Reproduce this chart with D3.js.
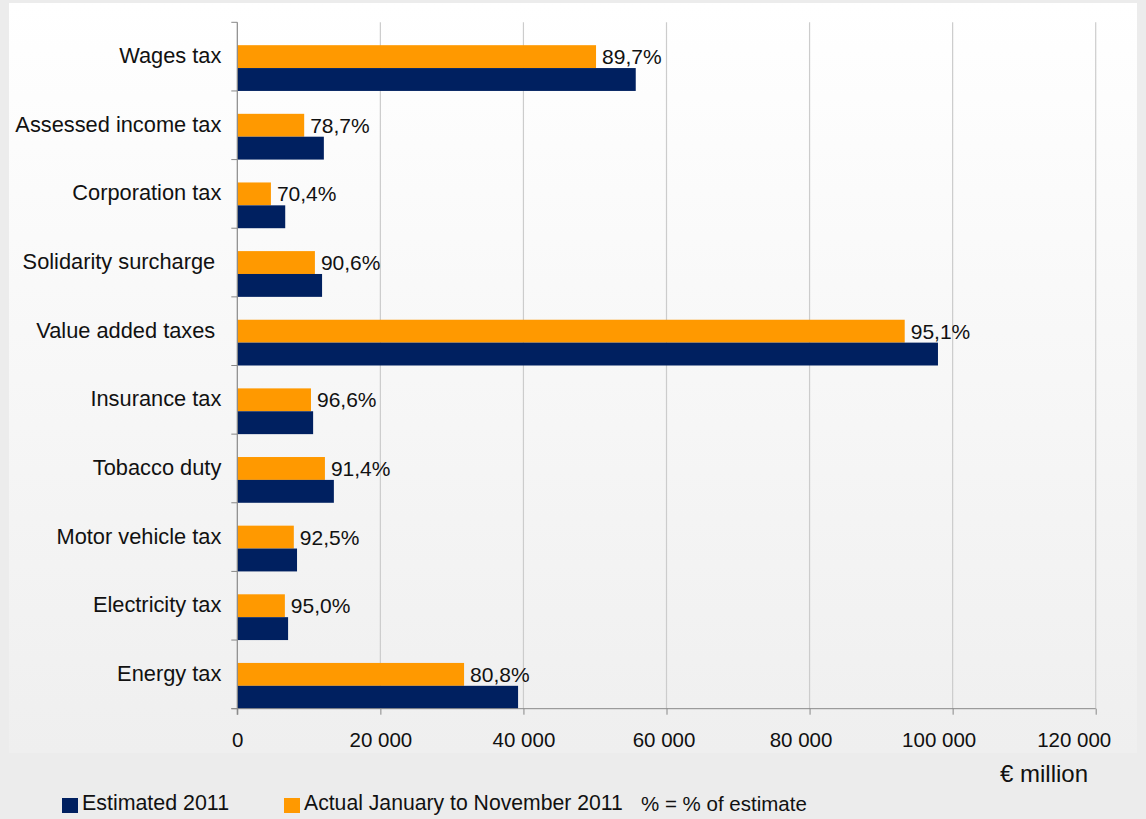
<!DOCTYPE html>
<html>
<head>
<meta charset="utf-8">
<script src="https://cdn.jsdelivr.net/npm/d3@7"></script>
<style>
  body { margin: 0; background: #ececec; }
  text { font-family: "Liberation Sans", Arial, sans-serif; fill: #111; }
</style>
</head>
<body>
<div id="chart"></div>
<script>
// data (€ million)
const categories = ["Wages tax", "Assessed income tax", "Corporation tax", "Solidarity surcharge ",
  "Value added taxes ", "Insurance tax", "Tobacco duty", "Motor vehicle tax", "Electricity tax", "Energy tax"]
const estimated = [55700, 12100, 6700, 11850, 97950, 10600, 13500, 8350, 7100, 39250]
const actual = [50150, 9350, 4700, 10850, 93300, 10300, 12250, 7900, 6650, 31700]
const shares = ["89,7%", "78,7%", "70,4%", "90,6%", "95,1%", "96,6%", "91,4%", "92,5%", "95,0%", "80,8%"]
const xTicks = [0, 20000, 40000, 60000, 80000, 100000, 120000]

const width = 1146, height = 819
const plotLeft = 237.3, plotRight = 1095.7, plotTop = 22.3, plotBottom = 708.7
// the original's tick labels drift left towards the right end
const tickNudge = { 60000: -3, 80000: -9, 100000: -14, 120000: -22 }

const svg = d3.select("#chart").append("svg")
  .attr("width", width)
  .attr("height", height)

// panel background with soft vertical gradient
const grad = svg.append("defs").append("linearGradient")
  .attr("id", "panel").attr("x1", 0).attr("y1", 0).attr("x2", 0).attr("y2", 1)
grad.append("stop").attr("offset", "0%").attr("stop-color", "#ffffff")
grad.append("stop").attr("offset", "100%").attr("stop-color", "#efefef")

svg.append("rect").attr("width", width).attr("height", height).attr("fill", "#ececec")
svg.append("rect").attr("x", 9).attr("y", 3).attr("width", 1128).attr("height", 750)
  .attr("fill", "url(#panel)")

const x = d3.scaleLinear().domain([0, 120000]).range([plotLeft, plotRight])
const y = d3.scaleBand().domain(categories).range([plotTop, plotBottom])
const sub = d3.scaleBand().domain(["gap", "actual", "estimated"]).range([0, y.bandwidth()])

// vertical gridlines
svg.append("g").selectAll("line")
  .data(xTicks.slice(1))
  .enter().append("line")
  .attr("x1", d => x(d)).attr("x2", d => x(d))
  .attr("y1", plotTop).attr("y2", plotBottom)
  .attr("stroke", "#cccccc").attr("stroke-width", 1.2)

// bars
const groups = svg.append("g").selectAll("g")
  .data(categories)
  .enter().append("g")
  .attr("transform", d => "translate(0," + y(d) + ")")

groups.append("rect")
  .attr("x", x(0))
  .attr("y", sub("actual"))
  .attr("width", (d, i) => x(actual[i]) - x(0))
  .attr("height", sub.bandwidth())
  .attr("fill", "#ff9900")

groups.append("rect")
  .attr("x", x(0))
  .attr("y", sub("estimated"))
  .attr("width", (d, i) => x(estimated[i]) - x(0))
  .attr("height", sub.bandwidth())
  .attr("fill", "#002060")

groups.append("text")
  .attr("x", (d, i) => x(actual[i]) + 6)
  .attr("y", sub("actual") + sub.bandwidth() / 2)
  .attr("dy", "0.36em")
  .style("font-size", "21px")
  .text((d, i) => shares[i])

// left axis: labels at band centres, ticks at band edges
const yAxis = svg.append("g")
  .attr("transform", "translate(" + plotLeft + ",0)")
  .call(d3.axisLeft(y).tickSize(0).tickPadding(16))
yAxis.select(".domain").remove()
yAxis.selectAll("text")
  .style("font-size", "21.8px")
  .style("white-space", "pre")
  .attr("dy", "0.3em")
  .attr("fill", "#111")

const edges = categories.map(d => y(d)).concat([plotBottom])
svg.append("g").selectAll("line")
  .data(edges)
  .enter().append("line")
  .attr("x1", plotLeft - 6).attr("x2", plotLeft)
  .attr("y1", d => d).attr("y2", d => d)
  .attr("stroke", "#888")
svg.append("line")
  .attr("x1", plotLeft).attr("x2", plotLeft).attr("y1", plotTop).attr("y2", plotBottom + 6)
  .attr("stroke", "#888").attr("stroke-width", 1.2)

// bottom axis
const xAxis = svg.append("g")
  .attr("transform", "translate(0," + plotBottom + ")")
  .call(d3.axisBottom(x).tickValues(xTicks).tickSize(6).tickPadding(18)
    .tickFormat(d => d3.format(",")(d).replace(/,/g, " ")))
xAxis.select(".domain").attr("stroke", "#888").attr("d", "M" + (plotLeft - 6) + ",0H" + plotRight)
xAxis.selectAll(".tick line").attr("stroke", "#888")
xAxis.selectAll("text")
  .style("font-size", "20.5px")
  .attr("dx", d => tickNudge[d] || 0)
  .attr("fill", "#111")

svg.append("text")
  .attr("x", 1088).attr("y", 782)
  .attr("text-anchor", "end")
  .style("font-size", "24px")
  .text("€ million")

// legend
svg.append("rect").attr("x", 62).attr("y", 798).attr("width", 16).attr("height", 15).attr("fill", "#002060")
svg.append("text").attr("x", 82).attr("y", 810).style("font-size", "21.4px").text("Estimated 2011")
svg.append("rect").attr("x", 284).attr("y", 798).attr("width", 16).attr("height", 15).attr("fill", "#ff9900")
svg.append("text").attr("x", 304).attr("y", 810).style("font-size", "21.2px").text("Actual January to November 2011")
svg.append("text").attr("x", 641).attr("y", 811).style("font-size", "20.5px").text("% = % of estimate")
</script>
</body>
</html>
